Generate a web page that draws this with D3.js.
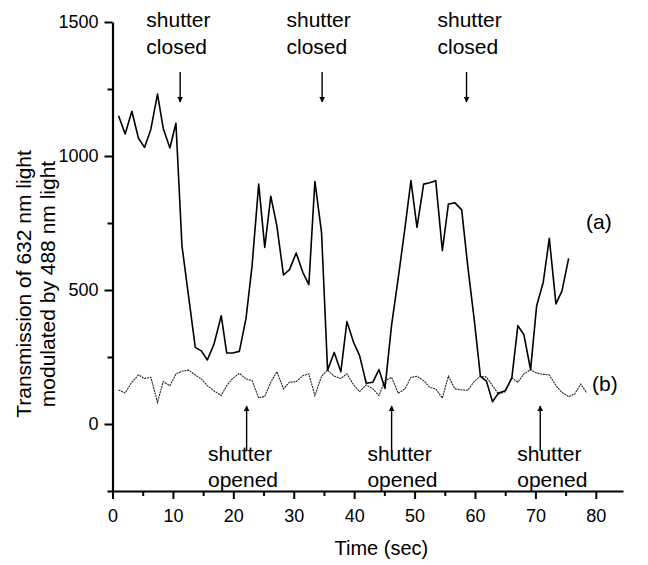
<!DOCTYPE html>
<html>
<head>
<meta charset="utf-8">
<script src="https://cdn.jsdelivr.net/npm/d3@7"></script>
<style>
	body { margin: 0; background: #fff; }
	text { font-family: "Liberation Sans", Arial, Helvetica, sans-serif; fill: #000; }
</style>
</head>
<body>
<div id="chart"></div>
<script>
// sample times (sec)
var times = [1, 2.1, 3.2, 4.3, 5.3, 6.35, 7.45, 8.4, 9.5, 10.5,
	11.5, 12.6, 13.7, 14.7, 15.7, 16.8, 18, 18.9, 19.9, 21,
	22.1, 23.1, 24.2, 25.2, 26.2, 27.2, 28.3, 29.3, 30.4, 31.5,
	32.5, 33.5, 34.6, 35.6, 36.7, 37.8, 38.8, 39.9, 40.9, 42,
	43.1, 44.1, 45.1, 46.2, 47.3, 48.4, 49.4, 50.4, 51.5, 52.5,
	53.5, 54.6, 55.6, 56.7, 57.8, 58.8, 59.9, 60.9, 61.9, 62.9,
	63.9, 65, 66.1, 67.1, 68.1, 69.2, 70.2, 71.3, 72.3, 73.4,
	74.4, 75.5, 76.5, 77.5, 78.5];

// (a) modulated by 488 nm light
var seriesA = [1150, 1082, 1167, 1066, 1032, 1100, 1231, 1103, 1030, 1122,
	665, 475, 286, 273, 239, 298, 404, 265, 265, 271,
	394, 590, 895, 659, 850, 740, 556, 576, 638, 566,
	520, 905, 715, 201, 267, 195, 382, 305, 255, 152,
	156, 203, 133, 370, 545, 730, 908, 734, 895, 900,
	908, 647, 821, 825, 799, 590, 385, 178, 160, 83,
	116, 124, 172, 367, 333, 203, 440, 529, 693, 448,
	497, 618];

// (b) reference
var seriesB = [127, 116, 156, 183, 170, 174, 81, 158, 143, 187,
	197, 201, 183, 168, 143, 124, 106, 143, 170, 189,
	168, 162, 97, 103, 156, 195, 131, 156, 158, 180,
	187, 106, 178, 201, 178, 170, 187, 146, 121, 146,
	131, 106, 162, 174, 115, 131, 174, 178, 162, 137,
	131, 97, 178, 131, 127, 126, 160, 178, 175, 143,
	112, 120, 172, 156, 187, 203, 190, 185, 183, 143,
	118, 102, 112, 149, 116];

var xTicks = [0, 10, 20, 30, 40, 50, 60, 70, 80];
var xMinor = [5, 15, 25, 35, 45, 55, 65, 75];
var yTicks = [0, 500, 1000, 1500];
var yMinor = [-250, 250, 750, 1250];

var closedTimes = [11.2, 34.7, 58.6];
var closedLabelAt = [5.6, 28.8, 53.8];
var openedTimes = [22.2, 46.2, 70.8];
var openedLabelAt = [15.8, 42.2, 67.0];

var width = 648,
	height = 565;

var svg = d3.select("#chart")
	.append("svg")
	.attr("width", width)
	.attr("height", height);

var x = d3.scaleLinear().domain([0, 84.5]).range([112.5, 623]);
var y = d3.scaleLinear().domain([-250, 1500]).range([491, 22]);

// arrow heads
var defs = svg.append("defs");
defs.append("marker")
	.attr("id", "head")
	.attr("viewBox", "0 0 10 10")
	.attr("refX", 9)
	.attr("refY", 5)
	.attr("markerWidth", 6)
	.attr("markerHeight", 8)
	.attr("markerUnits", "userSpaceOnUse")
	.attr("orient", "auto")
	.append("path")
	.attr("d", "M0,0L10,5L0,10z")
	.attr("fill", "#000");

// axes
svg.append("g")
	.attr("transform", "translate(0," + y(-250) + ")")
	.call(d3.axisBottom(x).tickValues(xTicks).tickSize(8).tickSizeOuter(0).tickPadding(10).tickFormat(d3.format("d")));
svg.append("g")
	.attr("transform", "translate(0," + y(-250) + ")")
	.call(d3.axisBottom(x).tickValues(xMinor).tickSize(5).tickFormat(""))
	.select(".domain").remove();

svg.append("g")
	.attr("transform", "translate(" + x(0) + ",0)")
	.call(d3.axisLeft(y).tickValues(yTicks).tickSize(8).tickSizeOuter(0).tickPadding(6).tickFormat(d3.format("d")));
svg.append("g")
	.attr("transform", "translate(" + x(0) + ",0)")
	.call(d3.axisLeft(y).tickValues(yMinor).tickSize(5).tickFormat(""))
	.select(".domain").remove();

svg.selectAll(".domain").attr("stroke", "#000").attr("stroke-width", 2.2);
svg.selectAll(".tick line").attr("stroke", "#000").attr("stroke-width", 2);
svg.selectAll(".tick text")
	.attr("font-size", 18)
	.attr("font-family", "Liberation Sans, Arial, sans-serif")
	.attr("fill", "#000");

// axis titles
svg.append("text")
	.attr("x", x(44.5))
	.attr("y", 555)
	.attr("text-anchor", "middle")
	.attr("font-size", 20)
	.text("Time (sec)");

var yTitle = svg.append("text")
	.attr("transform", "translate(0,284) rotate(-90)")
	.attr("text-anchor", "middle")
	.attr("font-size", 21);
yTitle.append("tspan").attr("x", 0).attr("y", 31).text("Transmission of 632 nm light");
yTitle.append("tspan").attr("x", 0).attr("y", 55).text("modulated by 488 nm light");

// data lines
var lineA = d3.line()
	.x(function (d, i) { return x(times[i]); })
	.y(function (d) { return y(d); });

svg.append("path")
	.datum(seriesB)
	.attr("d", lineA)
	.attr("fill", "none")
	.attr("stroke", "#222")
	.attr("stroke-width", 1.1)
	.attr("stroke-dasharray", "2,0.8");

svg.append("path")
	.datum(seriesA)
	.attr("d", lineA)
	.attr("fill", "none")
	.attr("stroke", "#000")
	.attr("stroke-width", 1.6)
	.attr("stroke-linejoin", "round");

// series labels
svg.append("text").attr("x", 586).attr("y", 229).attr("font-size", 21).text("(a)");
svg.append("text").attr("x", 592).attr("y", 391).attr("font-size", 21).text("(b)");

// shutter closed annotations
closedTimes.forEach(function (t, i) {
	var g = svg.append("g");
	var t0 = g.append("text").attr("font-size", 21);
	t0.append("tspan").attr("x", x(closedLabelAt[i])).attr("y", 27).text("shutter");
	t0.append("tspan").attr("x", x(closedLabelAt[i])).attr("y", 54).text("closed");
	g.append("line")
		.attr("x1", x(t)).attr("x2", x(t))
		.attr("y1", 72).attr("y2", 102)
		.attr("stroke", "#000")
		.attr("stroke-width", 1.4)
		.attr("marker-end", "url(#head)");
});

// shutter opened annotations
openedTimes.forEach(function (t, i) {
	var g = svg.append("g");
	var t0 = g.append("text").attr("font-size", 21);
	t0.append("tspan").attr("x", x(openedLabelAt[i])).attr("y", 461).text("shutter");
	t0.append("tspan").attr("x", x(openedLabelAt[i])).attr("y", 487).text("opened");
	g.append("line")
		.attr("x1", x(t)).attr("x2", x(t))
		.attr("y1", 451).attr("y2", 406)
		.attr("stroke", "#000")
		.attr("stroke-width", 1.4)
		.attr("marker-end", "url(#head)");
});
</script>
</body>
</html>
